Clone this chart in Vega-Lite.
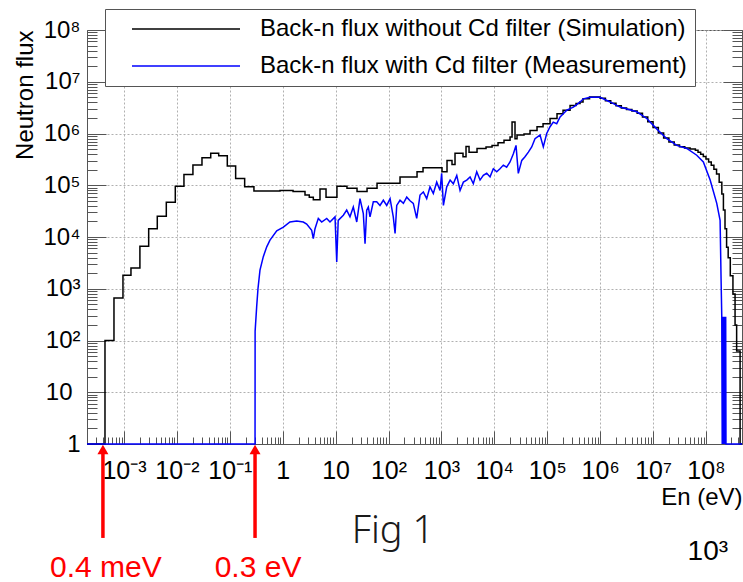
{
  "$schema": "https://vega.github.io/schema/vega-lite/v6.json",
  "width": 655,
  "height": 414,
  "autosize": {"type": "none"},
  "padding": {"left": 87, "top": 30, "right": 1, "bottom": 138},
  "background": "white",
  "datasets": {
    "sim": [
      {"E": 0.0002, "v": 1, "s": "sim"},
      {"E": 0.0004375, "v": 100, "s": "sim"},
      {"E": 0.000647, "v": 661, "s": "sim"},
      {"E": 0.000957, "v": 1820, "s": "sim"},
      {"E": 0.001355, "v": 2512, "s": "sim"},
      {"E": 0.002, "v": 6607, "s": "sim"},
      {"E": 0.00293, "v": 14450, "s": "sim"},
      {"E": 0.00426, "v": 25120, "s": "sim"},
      {"E": 0.00631, "v": 46770, "s": "sim"},
      {"E": 0.00933, "v": 95500, "s": "sim"},
      {"E": 0.0136, "v": 162200, "s": "sim"},
      {"E": 0.0201, "v": 245500, "s": "sim"},
      {"E": 0.0298, "v": 338800, "s": "sim"},
      {"E": 0.0436, "v": 416900, "s": "sim"},
      {"E": 0.0617, "v": 371500, "s": "sim"},
      {"E": 0.0897, "v": 234400, "s": "sim"},
      {"E": 0.129, "v": 134900, "s": "sim"},
      {"E": 0.191, "v": 93300, "s": "sim"},
      {"E": 0.286, "v": 77600, "s": "sim"},
      {"E": 0.889, "v": 79400, "s": "sim"},
      {"E": 1.57, "v": 75900, "s": "sim"},
      {"E": 2.64, "v": 64600, "s": "sim"},
      {"E": 3.18, "v": 58900, "s": "sim"},
      {"E": 3.79, "v": 52500, "s": "sim"},
      {"E": 5.07, "v": 85100, "s": "sim"},
      {"E": 6.59, "v": 58900, "s": "sim"},
      {"E": 10.6, "v": 95500, "s": "sim"},
      {"E": 16.4, "v": 87100, "s": "sim"},
      {"E": 25.4, "v": 75900, "s": "sim"},
      {"E": 39.3, "v": 87100, "s": "sim"},
      {"E": 60.7, "v": 109600, "s": "sim"},
      {"E": 165, "v": 144500, "s": "sim"},
      {"E": 346, "v": 182000, "s": "sim"},
      {"E": 449, "v": 218800, "s": "sim"},
      {"E": 1026, "v": 182000, "s": "sim"},
      {"E": 1276, "v": 302000, "s": "sim"},
      {"E": 1585, "v": 251200, "s": "sim"},
      {"E": 1807, "v": 416900, "s": "sim"},
      {"E": 2559, "v": 354800, "s": "sim"},
      {"E": 2917, "v": 562300, "s": "sim"},
      {"E": 3327, "v": 436500, "s": "sim"},
      {"E": 4710, "v": 512900, "s": "sim"},
      {"E": 6966, "v": 549500, "s": "sim"},
      {"E": 9057, "v": 588800, "s": "sim"},
      {"E": 11750, "v": 660700, "s": "sim"},
      {"E": 15240, "v": 741300, "s": "sim"},
      {"E": 19820, "v": 851100, "s": "sim"},
      {"E": 21630, "v": 1660000, "s": "sim"},
      {"E": 24600, "v": 794300, "s": "sim"},
      {"E": 26850, "v": 933300, "s": "sim"},
      {"E": 36390, "v": 977200, "s": "sim"},
      {"E": 47300, "v": 1148000, "s": "sim"},
      {"E": 64120, "v": 1349000, "s": "sim"},
      {"E": 83370, "v": 1549000, "s": "sim"},
      {"E": 113000, "v": 1950000, "s": "sim"},
      {"E": 153100, "v": 2399000, "s": "sim"},
      {"E": 199000, "v": 2818000, "s": "sim"},
      {"E": 270000, "v": 3467000, "s": "sim"},
      {"E": 350000, "v": 3802000, "s": "sim"},
      {"E": 417000, "v": 4074000, "s": "sim"},
      {"E": 475000, "v": 4677000, "s": "sim"},
      {"E": 631000, "v": 5070000, "s": "sim"},
      {"E": 794000, "v": 5070000, "s": "sim"},
      {"E": 1000000, "v": 4790000, "s": "sim"},
      {"E": 1259000, "v": 4315000, "s": "sim"},
      {"E": 1585000, "v": 3846000, "s": "sim"},
      {"E": 1995000, "v": 3428000, "s": "sim"},
      {"E": 2512000, "v": 3126000, "s": "sim"},
      {"E": 3162000, "v": 2917000, "s": "sim"},
      {"E": 3981000, "v": 2723000, "s": "sim"},
      {"E": 5012000, "v": 2455000, "s": "sim"},
      {"E": 6310000, "v": 2089000, "s": "sim"},
      {"E": 7943000, "v": 1679000, "s": "sim"},
      {"E": 10000000, "v": 1303000, "s": "sim"},
      {"E": 12590000, "v": 1023000, "s": "sim"},
      {"E": 15850000, "v": 822200, "s": "sim"},
      {"E": 19950000, "v": 683900, "s": "sim"},
      {"E": 25120000, "v": 602600, "s": "sim"},
      {"E": 31620000, "v": 555900, "s": "sim"},
      {"E": 39810000, "v": 524800, "s": "sim"},
      {"E": 50120000, "v": 501200, "s": "sim"},
      {"E": 63100000, "v": 473200, "s": "sim"},
      {"E": 70790000, "v": 436500, "s": "sim"},
      {"E": 79430000, "v": 398100, "s": "sim"},
      {"E": 89130000, "v": 358900, "s": "sim"},
      {"E": 100000000, "v": 319900, "s": "sim"},
      {"E": 112200000, "v": 281800, "s": "sim"},
      {"E": 125900000, "v": 242700, "s": "sim"},
      {"E": 141300000, "v": 204200, "s": "sim"},
      {"E": 158500000, "v": 164100, "s": "sim"},
      {"E": 177800000, "v": 114800, "s": "sim"},
      {"E": 199500000, "v": 67600, "s": "sim"},
      {"E": 213800000, "v": 33100, "s": "sim"},
      {"E": 229100000, "v": 14450, "s": "sim"},
      {"E": 245500000, "v": 6310, "s": "sim"},
      {"E": 263000000, "v": 3981, "s": "sim"},
      {"E": 288400000, "v": 1778, "s": "sim"},
      {"E": 323600000, "v": 794, "s": "sim"},
      {"E": 354800000, "v": 200, "s": "sim"},
      {"E": 380200000, "v": 63, "s": "sim"},
      {"E": 441600000, "v": 1, "s": "sim"},
      {"E": 480000000, "v": 1, "s": "sim"}
    ],
    "meas": [
      {"E": 0.0002, "v": 1, "s": "meas"},
      {"E": 0.3, "v": 1, "s": "meas"},
      {"E": 0.301, "v": 150, "s": "meas"},
      {"E": 0.322, "v": 447, "s": "meas"},
      {"E": 0.341, "v": 1000, "s": "meas"},
      {"E": 0.372, "v": 2290, "s": "meas"},
      {"E": 0.43, "v": 4170, "s": "meas"},
      {"E": 0.499, "v": 6460, "s": "meas"},
      {"E": 0.575, "v": 8710, "s": "meas"},
      {"E": 0.771, "v": 13200, "s": "meas"},
      {"E": 1.03, "v": 15500, "s": "meas"},
      {"E": 1.37, "v": 19500, "s": "meas"},
      {"E": 1.84, "v": 20400, "s": "meas"},
      {"E": 2.45, "v": 19500, "s": "meas"},
      {"E": 2.84, "v": 17800, "s": "meas"},
      {"E": 3.53, "v": 13500, "s": "meas"},
      {"E": 3.79, "v": 9330, "s": "meas"},
      {"E": 4.08, "v": 14500, "s": "meas"},
      {"E": 4.71, "v": 22900, "s": "meas"},
      {"E": 5.46, "v": 19500, "s": "meas"},
      {"E": 6.79, "v": 22900, "s": "meas"},
      {"E": 7.83, "v": 19500, "s": "meas"},
      {"E": 9.75, "v": 24500, "s": "meas"},
      {"E": 10.5, "v": 3310, "s": "meas"},
      {"E": 11.2, "v": 20900, "s": "meas"},
      {"E": 14.0, "v": 26300, "s": "meas"},
      {"E": 16.2, "v": 33100, "s": "meas"},
      {"E": 18.7, "v": 24500, "s": "meas"},
      {"E": 21.6, "v": 38000, "s": "meas"},
      {"E": 25.1, "v": 19500, "s": "meas"},
      {"E": 28.9, "v": 55000, "s": "meas"},
      {"E": 33.4, "v": 28200, "s": "meas"},
      {"E": 36.0, "v": 7410, "s": "meas"},
      {"E": 38.7, "v": 33100, "s": "meas"},
      {"E": 41.5, "v": 38000, "s": "meas"},
      {"E": 44.7, "v": 24500, "s": "meas"},
      {"E": 51.6, "v": 47900, "s": "meas"},
      {"E": 59.8, "v": 47900, "s": "meas"},
      {"E": 69.0, "v": 40700, "s": "meas"},
      {"E": 79.8, "v": 51300, "s": "meas"},
      {"E": 92.5, "v": 40700, "s": "meas"},
      {"E": 107, "v": 55000, "s": "meas"},
      {"E": 123, "v": 24500, "s": "meas"},
      {"E": 133, "v": 11700, "s": "meas"},
      {"E": 143, "v": 40700, "s": "meas"},
      {"E": 165, "v": 51300, "s": "meas"},
      {"E": 191, "v": 44700, "s": "meas"},
      {"E": 221, "v": 58900, "s": "meas"},
      {"E": 255, "v": 50100, "s": "meas"},
      {"E": 294, "v": 44700, "s": "meas"},
      {"E": 341, "v": 22900, "s": "meas"},
      {"E": 394, "v": 64600, "s": "meas"},
      {"E": 455, "v": 74100, "s": "meas"},
      {"E": 527, "v": 55000, "s": "meas"},
      {"E": 608, "v": 93300, "s": "meas"},
      {"E": 703, "v": 69200, "s": "meas"},
      {"E": 815, "v": 115000, "s": "meas"},
      {"E": 942, "v": 79400, "s": "meas"},
      {"E": 1010, "v": 170000, "s": "meas"},
      {"E": 1090, "v": 40700, "s": "meas"},
      {"E": 1260, "v": 93300, "s": "meas"},
      {"E": 1460, "v": 126000, "s": "meas"},
      {"E": 1680, "v": 107000, "s": "meas"},
      {"E": 1950, "v": 155000, "s": "meas"},
      {"E": 2250, "v": 79400, "s": "meas"},
      {"E": 2600, "v": 115000, "s": "meas"},
      {"E": 3010, "v": 126000, "s": "meas"},
      {"E": 3480, "v": 145000, "s": "meas"},
      {"E": 4010, "v": 107000, "s": "meas"},
      {"E": 4650, "v": 182000, "s": "meas"},
      {"E": 5370, "v": 126000, "s": "meas"},
      {"E": 6190, "v": 155000, "s": "meas"},
      {"E": 7180, "v": 170000, "s": "meas"},
      {"E": 8300, "v": 145000, "s": "meas"},
      {"E": 9570, "v": 209000, "s": "meas"},
      {"E": 11100, "v": 182000, "s": "meas"},
      {"E": 12800, "v": 209000, "s": "meas"},
      {"E": 14800, "v": 245000, "s": "meas"},
      {"E": 17100, "v": 224000, "s": "meas"},
      {"E": 19800, "v": 282000, "s": "meas"},
      {"E": 22900, "v": 407000, "s": "meas"},
      {"E": 25700, "v": 589000, "s": "meas"},
      {"E": 28400, "v": 170000, "s": "meas"},
      {"E": 33000, "v": 302000, "s": "meas"},
      {"E": 38000, "v": 355000, "s": "meas"},
      {"E": 44000, "v": 437000, "s": "meas"},
      {"E": 50900, "v": 550000, "s": "meas"},
      {"E": 58700, "v": 794000, "s": "meas"},
      {"E": 73100, "v": 933000, "s": "meas"},
      {"E": 84300, "v": 550000, "s": "meas"},
      {"E": 97700, "v": 1000000, "s": "meas"},
      {"E": 113000, "v": 1350000, "s": "meas"},
      {"E": 130000, "v": 1660000, "s": "meas"},
      {"E": 151000, "v": 1550000, "s": "meas"},
      {"E": 175000, "v": 2090000, "s": "meas"},
      {"E": 201000, "v": 2400000, "s": "meas"},
      {"E": 234000, "v": 2820000, "s": "meas"},
      {"E": 270000, "v": 3020000, "s": "meas"},
      {"E": 311000, "v": 3240000, "s": "meas"},
      {"E": 361000, "v": 3630000, "s": "meas"},
      {"E": 417000, "v": 4070000, "s": "meas"},
      {"E": 482000, "v": 4680000, "s": "meas"},
      {"E": 644000, "v": 5010000, "s": "meas"},
      {"E": 1000000, "v": 5010000, "s": "meas"},
      {"E": 1540000, "v": 4070000, "s": "meas"},
      {"E": 2380000, "v": 3240000, "s": "meas"},
      {"E": 4920000, "v": 2630000, "s": "meas"},
      {"E": 7600000, "v": 1950000, "s": "meas"},
      {"E": 11700000, "v": 1230000, "s": "meas"},
      {"E": 18200000, "v": 794000, "s": "meas"},
      {"E": 28100000, "v": 589000, "s": "meas"},
      {"E": 43400000, "v": 513000, "s": "meas"},
      {"E": 67000000, "v": 380000, "s": "meas"},
      {"E": 89300000, "v": 282000, "s": "meas"},
      {"E": 120000000, "v": 126000, "s": "meas"},
      {"E": 160000000, "v": 44700, "s": "meas"},
      {"E": 185000000, "v": 20900, "s": "meas"},
      {"E": 193000000, "v": 1580, "s": "meas"},
      {"E": 199000000, "v": 288, "s": "meas"},
      {"E": 203000000, "v": 1, "s": "meas"},
      {"E": 207000000, "v": 288, "s": "meas"},
      {"E": 211000000, "v": 1, "s": "meas"},
      {"E": 216000000, "v": 288, "s": "meas"},
      {"E": 221000000, "v": 1, "s": "meas"},
      {"E": 226000000, "v": 288, "s": "meas"},
      {"E": 231000000, "v": 1, "s": "meas"},
      {"E": 236000000, "v": 288, "s": "meas"},
      {"E": 239000000, "v": 1, "s": "meas"},
      {"E": 480000000, "v": 1, "s": "meas"}
    ],
    "arrows": [
      {"E": 0.0004, "label": "0.4 meV"},
      {"E": 0.3, "label": "0.3 eV"}
    ]
  },
  "layer": [
    {
      "data": {"name": "sim"},
      "mark": {"type": "line", "interpolate": "step-after", "strokeWidth": 1.5},
      "encoding": {
        "x": {
          "field": "E", "type": "quantitative",
          "scale": {"type": "log", "domain": [0.0002, 480000000], "nice": false},
          "axis": {
            "orient": "bottom",
            "values": [2e-4,3e-4,4e-4,5e-4,6e-4,7e-4,8e-4,9e-4,1e-3,2e-3,3e-3,4e-3,5e-3,6e-3,7e-3,8e-3,9e-3,0.01,0.02,0.03,0.04,0.05,0.06,0.07,0.08,0.09,0.1,0.2,0.3,0.4,0.5,0.6,0.7,0.8,0.9,1,2,3,4,5,6,7,8,9,10,20,30,40,50,60,70,80,90,100,200,300,400,500,600,700,800,900,1000,2000,3000,4000,5000,6000,7000,8000,9000,1e4,2e4,3e4,4e4,5e4,6e4,7e4,8e4,9e4,1e5,2e5,3e5,4e5,5e5,6e5,7e5,8e5,9e5,1e6,2e6,3e6,4e6,5e6,6e6,7e6,8e6,9e6,1e7,2e7,3e7,4e7,5e7,6e7,7e7,8e7,9e7,1e8,2e8,3e8,4e8],
            "labelExpr": "abs(log(datum.value)/LN10-round(log(datum.value)/LN10))>0.001 ? '' : round(log(datum.value)/LN10)==0 ? '1' : round(log(datum.value)/LN10)==1 ? '10' : '10' + (datum.value<1 ? '⁻' : '') + substring('⁰¹²³⁴⁵⁶⁷⁸⁹', abs(round(log(datum.value)/LN10)), abs(round(log(datum.value)/LN10))+1)",
            "labelOverlap": false,
            "labelFlush": false,
            "labelFontSize": 25,
            "labelPadding": 27,
            "tickSize": {"condition": {"test": "abs(log(datum.value)/LN10-round(log(datum.value)/LN10))<0.001", "value": -13}, "value": -7},
            "gridOpacity": {"condition": {"test": "abs(log(datum.value)/LN10-round(log(datum.value)/LN10))<0.001", "value": 1}, "value": 0},
            "grid": true,
            "title": "En (eV)",
            "titleFontSize": 24,
            "titleAlign": "right",
            "titleAnchor": "end",
            "titleBaseline": "alphabetic",
            "titleX": 655,
            "titleY": 60
          }
        },
        "y": {
          "field": "v", "type": "quantitative",
          "scale": {"type": "log", "domain": [1, 100000000], "nice": false},
          "axis": {
            "orient": "left",
            "values": [1,2,3,4,5,6,7,8,9,10,20,30,40,50,60,70,80,90,100,200,300,400,500,600,700,800,900,1000,2000,3000,4000,5000,6000,7000,8000,9000,1e4,2e4,3e4,4e4,5e4,6e4,7e4,8e4,9e4,1e5,2e5,3e5,4e5,5e5,6e5,7e5,8e5,9e5,1e6,2e6,3e6,4e6,5e6,6e6,7e6,8e6,9e6,1e7,2e7,3e7,4e7,5e7,6e7,7e7,8e7,9e7,1e8],
            "labelExpr": "abs(log(datum.value)/LN10-round(log(datum.value)/LN10))>0.001 ? '' : round(log(datum.value)/LN10)==0 ? '1' : round(log(datum.value)/LN10)==1 ? '10' : '10' + substring('⁰¹²³⁴⁵⁶⁷⁸⁹', round(log(datum.value)/LN10), round(log(datum.value)/LN10)+1)",
            "labelOverlap": false,
            "labelFlush": false,
            "labelFontSize": 24,
            "labelPadding": {"condition": {"test": "datum.value == 10", "value": 34}, "value": 26},
            "tickSize": {"condition": {"test": "abs(log(datum.value)/LN10-round(log(datum.value)/LN10))<0.001", "value": -19}, "value": -10},
            "gridOpacity": {"condition": {"test": "abs(log(datum.value)/LN10-round(log(datum.value)/LN10))<0.001", "value": 1}, "value": 0},
            "grid": true,
            "title": "Neutron flux",
            "titleFontSize": 24,
            "titleAngle": -90,
            "titleAlign": "right",
            "titleBaseline": "alphabetic",
            "titleX": -55,
            "titleY": 0
          }
        },
        "color": {
          "field": "s", "type": "nominal",
          "scale": {"domain": ["sim", "meas"], "range": ["#000000", "#0000ff"]},
          "legend": {
            "title": null,
            "orient": "none",
            "legendX": 18,
            "legendY": -21,
            "direction": "vertical",
            "fillColor": "white",
            "strokeColor": "#555555",
            "padding": 8,
            "cornerRadius": 0,
            "symbolType": "M-10.8,0H10.8",
            "symbolSize": 100,
            "symbolStrokeWidth": 1.5,
            "symbolOffset": 61,
            "labelOffset": 62,
            "labelFont": "Liberation Sans",
            "labelFontSize": 24,
            "labelColor": "#000000",
            "labelLimit": 2000,
            "rowPadding": 13,
            "labelExpr": "(datum.label == 'sim' ? 'Back-n flux without Cd filter (Simulation)' : 'Back-n flux with Cd filter (Measurement)') + '\u00a0\u00a0\u00a0\u00a0'"
          }
        }
      }
    },
    {
      "data": {"name": "meas"},
      "mark": {"type": "line", "strokeWidth": 1.5},
      "encoding": {
        "x": {"field": "E", "type": "quantitative", "scale": {"type": "log", "domain": [0.0002, 480000000], "nice": false}},
        "y": {
          "field": "v", "type": "quantitative",
          "scale": {"type": "log", "domain": [1, 100000000], "nice": false},
          "axis": {
            "orient": "right",
            "values": [1,2,3,4,5,6,7,8,9,10,20,30,40,50,60,70,80,90,100,200,300,400,500,600,700,800,900,1000,2000,3000,4000,5000,6000,7000,8000,9000,1e4,2e4,3e4,4e4,5e4,6e4,7e4,8e4,9e4,1e5,2e5,3e5,4e5,5e5,6e5,7e5,8e5,9e5,1e6,2e6,3e6,4e6,5e6,6e6,7e6,8e6,9e6,1e7,2e7,3e7,4e7,5e7,6e7,7e7,8e7,9e7,1e8],
            "labels": false,
            "grid": false,
            "title": null,
            "tickSize": {"condition": {"test": "abs(log(datum.value)/LN10-round(log(datum.value)/LN10))<0.001", "value": -19}, "value": -10}
          }
        },
        "color": {"field": "s", "type": "nominal"}
      }
    },
    {
      "data": {"name": "arrows"},
      "mark": {"type": "rule", "color": "#ff0000", "strokeWidth": 3.5},
      "encoding": {
        "x": {"field": "E", "type": "quantitative"},
        "y": {"datum": 0.0153, "type": "quantitative", "axis": null},
        "y2": {"datum": 0.67}
      }
    },
    {
      "data": {"name": "arrows"},
      "mark": {"type": "point", "shape": "triangle-up", "filled": true, "color": "#ff0000", "opacity": 1, "size": 121},
      "encoding": {
        "x": {"field": "E", "type": "quantitative"},
        "y": {"datum": 0.78, "type": "quantitative", "axis": null}
      }
    },
    {
      "data": {"name": "arrows"},
      "mark": {"type": "text", "color": "#ff0000", "font": "Liberation Sans", "fontSize": 30, "align": "center", "baseline": "alphabetic", "dx": 3},
      "encoding": {
        "x": {"field": "E", "type": "quantitative"},
        "y": {"datum": 0.0027, "type": "quantitative", "axis": null},
        "text": {"field": "label"}
      }
    },
    {
      "data": {"values": [{"t": "Fig 1"}]},
      "mark": {"type": "text", "color": "#1a1a1a", "font": "Noto Sans", "fontSize": 38, "fontWeight": 300, "align": "center", "baseline": "alphabetic"},
      "encoding": {
        "x": {"datum": 121.6, "type": "quantitative"},
        "y": {"datum": 0.01227, "type": "quantitative", "axis": null},
        "text": {"field": "t"}
      }
    },
    {
      "data": {"values": [{"t": "10³"}]},
      "mark": {"type": "text", "color": "#000000", "font": "Liberation Sans", "fontSize": 28, "align": "right", "baseline": "alphabetic"},
      "encoding": {
        "x": {"datum": 262000000, "type": "quantitative"},
        "y": {"datum": 0.00577, "type": "quantitative", "axis": null},
        "text": {"field": "t"}
      }
    }
  ],
  "resolve": {"axis": {"y": "independent"}},
  "config": {
    "view": {"stroke": "#555555", "strokeWidth": 1},
    "axis": {
      "domainColor": "#555555",
      "tickColor": "#555555",
      "labelFont": "Liberation Sans",
      "titleFont": "Liberation Sans",
      "labelColor": "#000000",
      "titleColor": "#000000",
      "titleFontWeight": "normal",
      "gridColor": "#b0b0b0",
      "gridDash": [2, 2]
    }
  }
}
